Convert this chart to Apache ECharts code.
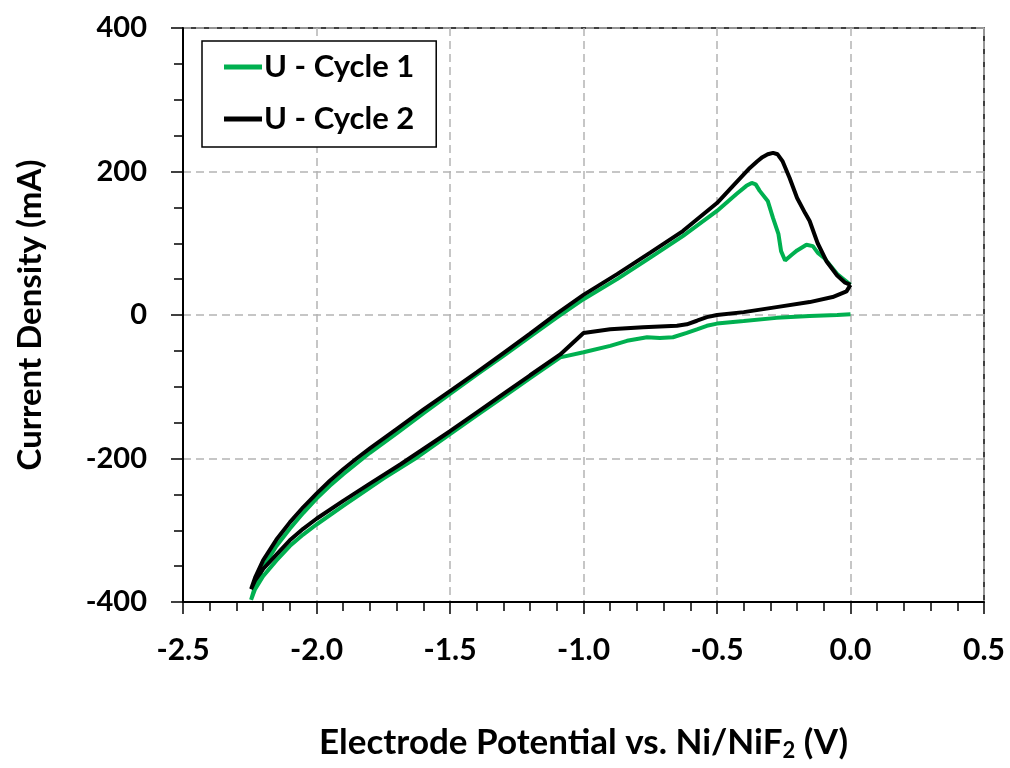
<!DOCTYPE html>
<html>
<head>
<meta charset="utf-8">
<script src="https://cdn.jsdelivr.net/npm/echarts@6/dist/echarts.min.js"></script>
<style>html,body{margin:0;padding:0;background:#fff}#c{width:1010px;height:768px}</style>
</head>
<body>
<div id="c"></div>
<script>
// Cycle 1 (green): potential (V) and current (mA), in sweep order
const c1V = [0.0, -0.05, -0.153, -0.277, -0.40, -0.50, -0.538, -0.575, -0.613, -0.665, -0.714, -0.762, -0.837, -0.90, -1.0, -1.087,
  -1.2, -1.3, -1.4, -1.5, -1.63, -1.75, -1.9, -2.0, -2.05, -2.1, -2.15, -2.2, -2.23, -2.245,
  -2.23, -2.2, -2.15, -2.1, -2.05, -2.0, -1.95, -1.9, -1.85, -1.8, -1.7, -1.6, -1.5, -1.4, -1.3, -1.2, -1.106, -1.0, -0.874, -0.75, -0.628, -0.5, -0.426, -0.39, -0.37,
  -0.355, -0.34, -0.31, -0.29, -0.27, -0.26, -0.245, -0.22, -0.20, -0.165, -0.141, -0.123, -0.10, -0.05, 0.0];
const c1I = [1, 0, -1.5, -4, -8.5, -12, -15, -20, -25, -31, -32, -31, -36, -43, -52, -59,
  -88, -114, -140, -166, -200, -228, -266, -292, -306, -322, -342, -364, -382, -397,
  -378, -352, -322, -298, -276, -256, -238, -222, -207, -192, -165, -137, -110, -83, -57, -30, -5, 22, 50, 80, 110, 145, 169, 180, 184,
  182, 173, 159, 135, 113, 89, 76, 84, 90, 98, 96, 87, 80, 57, 42];

// Cycle 2 (black)
const c2V = [0.0, -0.015, -0.067, -0.153, -0.277, -0.40, -0.50, -0.538, -0.575, -0.613, -0.65, -0.777, -0.90, -1.0, -1.087,
  -1.2, -1.3, -1.4, -1.5, -1.685, -1.8, -1.9, -2.0, -2.05, -2.1, -2.15, -2.2, -2.23, -2.245,
  -2.23, -2.2, -2.15, -2.1, -2.05, -2.0, -1.95, -1.9, -1.85, -1.8, -1.7, -1.6, -1.5, -1.4, -1.3, -1.2, -1.1, -1.0, -0.874, -0.75, -0.628, -0.5, -0.44, -0.377, -0.35, -0.33, -0.31, -0.29,
  -0.273, -0.254, -0.228, -0.20, -0.17, -0.153, -0.123, -0.09, -0.05, -0.02, 0.0];
const c2I = [42, 33, 25, 18, 11, 4, 0, -3, -8, -13, -15, -17, -20, -25, -55,
  -84, -110, -136, -162, -208, -235, -259, -284, -298, -314, -334, -354, -370, -382,
  -366, -342, -313, -289, -268, -249, -231, -215, -200, -186, -159, -132, -106, -80, -53, -26, 2, 28, 57, 87, 117, 156, 180, 205, 214, 220, 224, 226,
  224, 214, 191, 163, 142, 131, 100, 75, 55, 45, 42];

const xTicks = [-2.5, -2.0, -1.5, -1.0, -0.5, 0.0, 0.5];
const yTicks = [-400, -200, 0, 200, 400];

const zip = (a, b) => a.map((v, i) => [v, b[i]]);
const F = 'Lato, "Open Sans", sans-serif';

const chart = echarts.init(document.getElementById('c'));
chart.setOption({
  animation: false,
  backgroundColor: '#fff',
  grid: { left: 183, right: 26, top: 28, bottom: 166, show: true, borderColor: '#000', borderWidth: 1.5 },
  legend: {
    left: 202, top: 41, orient: 'vertical',
    backgroundColor: '#fff', borderColor: '#000', borderWidth: 1.5, borderRadius: 0,
    padding: [8, 22, 10, 22],
    icon: 'rect', itemWidth: 38, itemHeight: 5, itemGap: 16,
    textStyle: { fontFamily: F, fontWeight: 'bold', fontSize: 31, color: '#000', lineHeight: 36, padding: [0, 0, 0, -3] },
    data: ['U - Cycle 1', 'U - Cycle 2']
  },
  xAxis: {
    type: 'value', min: xTicks[0], max: xTicks[xTicks.length - 1], interval: 0.5,
    name: 'Electrode Potential vs. Ni/NiF{s|2} (V)', nameLocation: 'middle', nameGap: 122,
    nameTextStyle: { fontFamily: F, fontWeight: 'bold', fontSize: 35, color: '#000',
      rich: { s: { fontFamily: F, fontWeight: 'bold', fontSize: 22, color: '#000', verticalAlign: 'bottom', padding: [16, 0, 0, 0] } } },
    axisLine: { onZero: false, lineStyle: { color: '#000', width: 2 } },
    axisTick: { show: true, inside: false, length: 12, lineStyle: { color: '#000', width: 1.5 } },
    minorTick: { show: true, splitNumber: 5, length: 9, lineStyle: { color: '#000', width: 1.5 } },
    axisLabel: { margin: 33, fontFamily: F, fontWeight: 'bold', fontSize: 30, color: '#000', formatter: v => v.toFixed(1) },
    splitLine: { show: true, lineStyle: { color: '#b4b4b4', width: 1.5, type: [8, 5] } }
  },
  yAxis: {
    type: 'value', min: yTicks[0], max: yTicks[yTicks.length - 1], interval: 200,
    name: 'Current Density (mA)', nameLocation: 'middle', nameGap: 136, nameRotate: 90,
    nameTextStyle: { fontFamily: F, fontWeight: 'bold', fontSize: 33, color: '#000' },
    axisLine: { onZero: false, lineStyle: { color: '#000', width: 2 } },
    axisTick: { show: true, inside: false, length: 12, lineStyle: { color: '#000', width: 1.5 } },
    minorTick: { show: true, splitNumber: 4, length: 9, lineStyle: { color: '#000', width: 1.5 } },
    axisLabel: { margin: 36, fontFamily: F, fontWeight: 'bold', fontSize: 29, color: '#000' },
    splitLine: { show: true, lineStyle: { color: '#b4b4b4', width: 1.5, type: [8, 5] } }
  },
  series: [
    { name: 'U - Cycle 1', type: 'line', data: zip(c1V, c1I), symbol: 'none', smooth: false,
      lineStyle: { color: '#00B050', width: 4 }, itemStyle: { color: '#00B050' } },
    { name: 'U - Cycle 2', type: 'line', data: zip(c2V, c2I), symbol: 'none', smooth: false,
      lineStyle: { color: '#000', width: 4 }, itemStyle: { color: '#000' } }
  ]
});
</script>
</body>
</html>
